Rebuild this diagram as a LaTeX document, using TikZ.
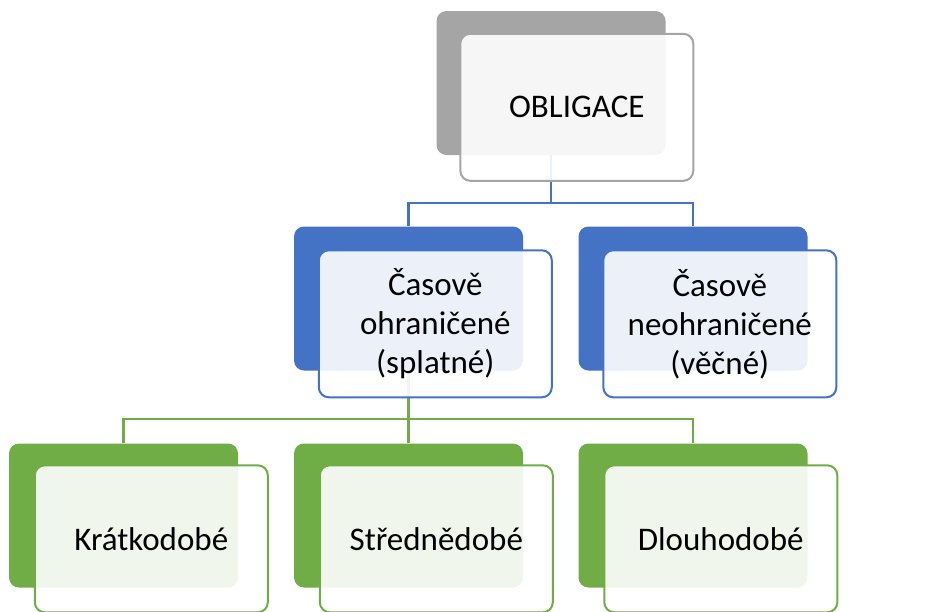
\documentclass[tikz,border=0pt]{standalone}
\usepackage{fontspec}
\setmainfont{Carlito}
\usetikzlibrary{positioning, backgrounds}

\definecolor{obgray}{HTML}{A5A5A5}
\definecolor{obblue}{HTML}{4472C4}
\definecolor{obgreen}{HTML}{70AD47}

\begin{document}
\begin{tikzpicture}[
	x=1pt, y=-1pt,
	back/.style={rectangle, rounded corners=10pt, fill=#1, inner sep=0pt, minimum width=229pt, minimum height=144pt},
	front/.style={rectangle, rounded corners=10pt, draw=#1, line width=2pt, fill=white, fill opacity=0.9, text opacity=1, inner sep=0pt, minimum width=233pt, minimum height=147pt, align=center, font=\fontsize{33}{39}\selectfont},
	link/.style={draw=#1, line width=2.4pt}
]
\useasboundingbox (0,0) rectangle (942,611);

% top level
\node[back=obgray] (ob) at (551,83) {};
\node[front=obgray, below right=22pt and 23pt of ob.north west] (ob_txt) {OBLIGACE};

% second level
\node[back=obblue] (cas) at (408.5,298.5) {};
\node[front=obblue, below right=23pt and 24pt of cas.north west] (cas_txt) {Časově\\ohraničené\\(splatné)};
\node[back=obblue] (neo) at (693,298.5) {};
\node[front=obblue, below right=23pt and 24pt of neo.north west] (neo_txt) {Časově\\neohraničené\\(věčné)};

% third level
\node[back=obgreen] (kr) at (123.5,515.5) {};
\node[front=obgreen, below right=21pt and 25pt of kr.north west] (kr_txt) {Krátkodobé};
\node[back=obgreen] (st) at (408.5,515.5) {};
\node[front=obgreen, below right=21pt and 25pt of st.north west] (st_txt) {Střednědobé};
\node[back=obgreen] (dl) at (693,515.5) {};
\node[front=obgreen, below right=21pt and 25pt of dl.north west] (dl_txt) {Dlouhodobé};

\coordinate (bus_blue) at (0,203);
\coordinate (bus_green) at (0,419);

\begin{scope}[on background layer]
\draw[link=obblue] (ob.south) -- (ob.south |- bus_blue) -| (cas.north);
\draw[link=obblue] (ob.south |- bus_blue) -| (neo.north);
\draw[link=obgreen] (cas.south) -- (cas.south |- bus_green) -| (kr.north);
\draw[link=obgreen] (cas.south |- bus_green) -- (st.north);
\draw[link=obgreen] (cas.south |- bus_green) -| (dl.north);
\end{scope}
\end{tikzpicture}
\end{document}
